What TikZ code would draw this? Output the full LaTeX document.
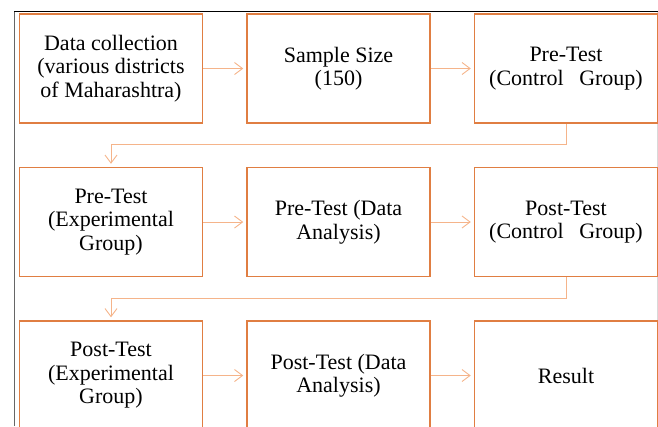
\documentclass[tikz,border=0pt]{standalone}
\usepackage{fontspec}
\setmainfont{Liberation Serif}
\usepackage{xcolor}
\usetikzlibrary{positioning, arrows.meta}

\definecolor{boxorange}{HTML}{E07E42}
\definecolor{linkorange}{HTML}{F5B48A}

\begin{document}
\begin{tikzpicture}[x=1pt,y=-1pt,node distance=43pt,
    ->,>={Straight Barb[length=8pt,width=12pt]},shorten >=3pt]
            \tikzset{stage/.style={draw=boxorange, line width=1.5pt, minimum width=183pt,
                minimum height=109pt, align=center, inner sep=2pt,
                font=\rmfamily\fontsize{22}{23.5}\selectfont}}
            \tikzset{link/.style={draw=linkorange, line width=0.9pt}}
            \useasboundingbox (0,0) rectangle (658,426);
            \clip (0,0) rectangle (658,426);
            % frame of the page
            \draw[-, shorten >=0pt, gray!80!black, line width=1.2pt] (14.5,426) -- (14.5,11.5);
            \draw[-, shorten >=0pt, black, line width=1pt] (14,11.5) -- (658,11.5);
            \draw[-, shorten >=0pt, gray!30, line width=1pt] (657,11.5) -- (657,426);
            % first row
            \node[stage] (A) at (111,68.5) {Data collection\\(various districts\\of Maharashtra)};
            \node[stage] (B) [right=of A] {Sample Size\\(150)};
            \node[stage] (C) [right=of B] {Pre-Test\\(Control\hspace{10pt} Group)};
            % second row
            \node[stage] (D) [below=of A] {Pre-Test\\(Experimental\\Group)};
            \node[stage] (E) [right=of D] {Pre-Test (Data\\Analysis)};
            \node[stage] (F) [right=of E] {Post-Test\\(Control\hspace{10pt} Group)};
            % third row
            \node[stage] (G) [below=of D] {Post-Test\\(Experimental\\Group)};
            \node[stage] (H) [right=of G] {Post-Test (Data\\Analysis)};
            \node[stage] (I) [right=of H] {Result};
            \path[link] (A) edge (B);
            \path[link] (B) edge (C);
            \draw[link] (C.south) -- ++(0,21) -| (D.north);
            \path[link] (D) edge (E);
            \path[link] (E) edge (F);
            \draw[link] (F.south) -- ++(0,21) -| (G.north);
            \path[link] (G) edge (H);
            \path[link] (H) edge (I);
        \end{tikzpicture}
\end{document}
